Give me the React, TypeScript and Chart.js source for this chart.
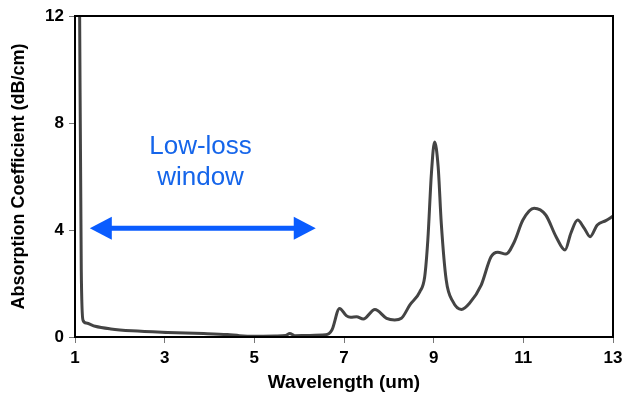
import React, { useEffect, useRef } from "react";
import { Chart, registerables } from "chart.js";

Chart.register(...registerables);

const wavelength = [
  1.1, 1.14, 1.18, 1.25, 1.45, 1.8, 2.27, 3.07, 3.87, 4.4, 4.67, 4.99, 5.47, 5.7, 5.79, 5.9, 6.2, 6.59,
  6.73, 6.9, 7.05, 7.15, 7.28, 7.43, 7.69, 7.95, 8.13, 8.28, 8.47, 8.69, 8.8, 8.87, 8.95, 9.02, 9.1,
  9.17, 9.28, 9.43, 9.62, 9.8, 10.06, 10.28, 10.43, 10.61, 10.8, 10.99, 11.24, 11.5, 11.73, 11.93,
  12.06, 12.21, 12.36, 12.49, 12.65, 12.84, 13.0,
];
const absorption = [
  13, 2.5, 0.62, 0.52, 0.4, 0.3, 0.23, 0.17, 0.13, 0.09, 0.05, 0.03, 0.04, 0.06, 0.13, 0.05, 0.06, 0.08,
  0.26, 1.07, 0.8, 0.74, 0.76, 0.67, 1.03, 0.7, 0.64, 0.7, 1.2, 1.69, 2.25, 3.63, 6.12, 7.29, 6.37,
  4.25, 2.13, 1.32, 1.03, 1.26, 1.94, 3.0, 3.17, 3.1, 3.56, 4.37, 4.81, 4.56, 3.75, 3.25,
  3.88, 4.37, 4.06, 3.75, 4.19, 4.35, 4.52,
];
const xTicks = [1, 3, 5, 7, 9, 11, 13];
const yTicks = [0, 4, 8, 12];
const annotationLines = ["Low-loss", "window"];
const annotationTextX = 3.8;
const annotationTextY = [7.1, 5.94];
const arrowFrom = 1.33;
const arrowTo = 6.37;
const arrowY = 4.07;

const FONT = "'Liberation Sans', Arial, sans-serif";

const overlayPlugin = {
  id: "overlay",
  afterDatasetsDraw(chart: any) {
    const { ctx, chartArea, scales } = chart;
    const xs = scales.x;
    const ys = scales.y;
    ctx.save();
    ctx.strokeStyle = "#000";
    ctx.lineWidth = 2;
    ctx.strokeRect(chartArea.left, chartArea.top, chartArea.right - chartArea.left, chartArea.bottom - chartArea.top);
    const x1 = xs.getPixelForValue(arrowFrom);
    const x2 = xs.getPixelForValue(arrowTo);
    const y = ys.getPixelForValue(arrowY);
    const headL = 22;
    const headH = 11.5;
    ctx.fillStyle = "#0a5cff";
    ctx.strokeStyle = "#0a5cff";
    ctx.lineWidth = 5;
    ctx.beginPath();
    ctx.moveTo(x1 + headL - 2, y);
    ctx.lineTo(x2 - headL + 2, y);
    ctx.stroke();
    ctx.beginPath();
    ctx.moveTo(x1, y);
    ctx.lineTo(x1 + headL, y - headH);
    ctx.lineTo(x1 + headL, y + headH);
    ctx.closePath();
    ctx.fill();
    ctx.beginPath();
    ctx.moveTo(x2, y);
    ctx.lineTo(x2 - headL, y - headH);
    ctx.lineTo(x2 - headL, y + headH);
    ctx.closePath();
    ctx.fill();
    ctx.fillStyle = "#1565ea";
    ctx.font = `26px ${FONT}`;
    ctx.textAlign = "center";
    ctx.textBaseline = "middle";
    annotationLines.forEach((t, i) => {
      ctx.fillText(t, xs.getPixelForValue(annotationTextX), ys.getPixelForValue(annotationTextY[i]));
    });
    ctx.restore();
  },
};

export default function App() {
  const ref = useRef<HTMLCanvasElement>(null);
  useEffect(() => {
    if (!ref.current) return;
    const chart = new Chart(ref.current, {
      type: "line",
      data: {
        datasets: [
          {
            data: wavelength.map((w, i) => ({ x: w, y: absorption[i] })),
            borderColor: "#444444",
            borderWidth: 3,
            pointRadius: 0,
            cubicInterpolationMode: "monotone",
            fill: false,
          },
        ],
      },
      options: {
        responsive: false,
        animation: false,
        devicePixelRatio: 1,
        layout: { padding: { left: 0, top: 16, right: 11, bottom: 0 } },
        plugins: { legend: { display: false }, tooltip: { enabled: false } },
        scales: {
          x: {
            type: "linear",
            min: 1,
            max: 13,
            afterBuildTicks: (s: any) => {
              s.ticks = xTicks.map((v) => ({ value: v }));
            },
            afterFit: (s: any) => {
              s.height = 57;
              s.paddingLeft = 0;
              s.paddingRight = 0;
            },
            grid: { drawOnChartArea: false, drawTicks: true, tickLength: 6, color: "#777", lineWidth: 1 },
            border: { display: false },
            ticks: { color: "#000", padding: 5, maxRotation: 0, font: { family: FONT, size: 17, weight: "bold" } },
            title: {
              display: true,
              text: "Wavelength (um)",
              color: "#000",
              font: { family: FONT, size: 19, weight: "bold", lineHeight: 1.2 },
              padding: { top: 0, bottom: 0 },
            },
          },
          y: {
            type: "linear",
            min: 0,
            max: 12,
            afterBuildTicks: (s: any) => {
              s.ticks = yTicks.map((v) => ({ value: v }));
            },
            afterFit: (s: any) => {
              s.width = 75;
              s.paddingTop = 0;
              s.paddingBottom = 0;
            },
            grid: { drawOnChartArea: false, drawTicks: true, tickLength: 6, color: "#777", lineWidth: 1 },
            border: { display: false },
            ticks: { color: "#000", padding: 5, font: { family: FONT, size: 17, weight: "bold" } },
            title: {
              display: true,
              text: "Absorption Coefficient (dB/cm)",
              color: "#000",
              font: { family: FONT, size: 18, weight: "bold", lineHeight: 1.2 },
              padding: { top: 8, bottom: 0 },
            },
          },
        },
      },
      plugins: [overlayPlugin],
    } as any);
    return () => chart.destroy();
  }, []);
  return (
    <div style={{ position: "absolute", left: 0, top: 0, width: 624, height: 394, background: "#fff" }}>
      <canvas ref={ref} width={624} height={394} />
    </div>
  );
}
